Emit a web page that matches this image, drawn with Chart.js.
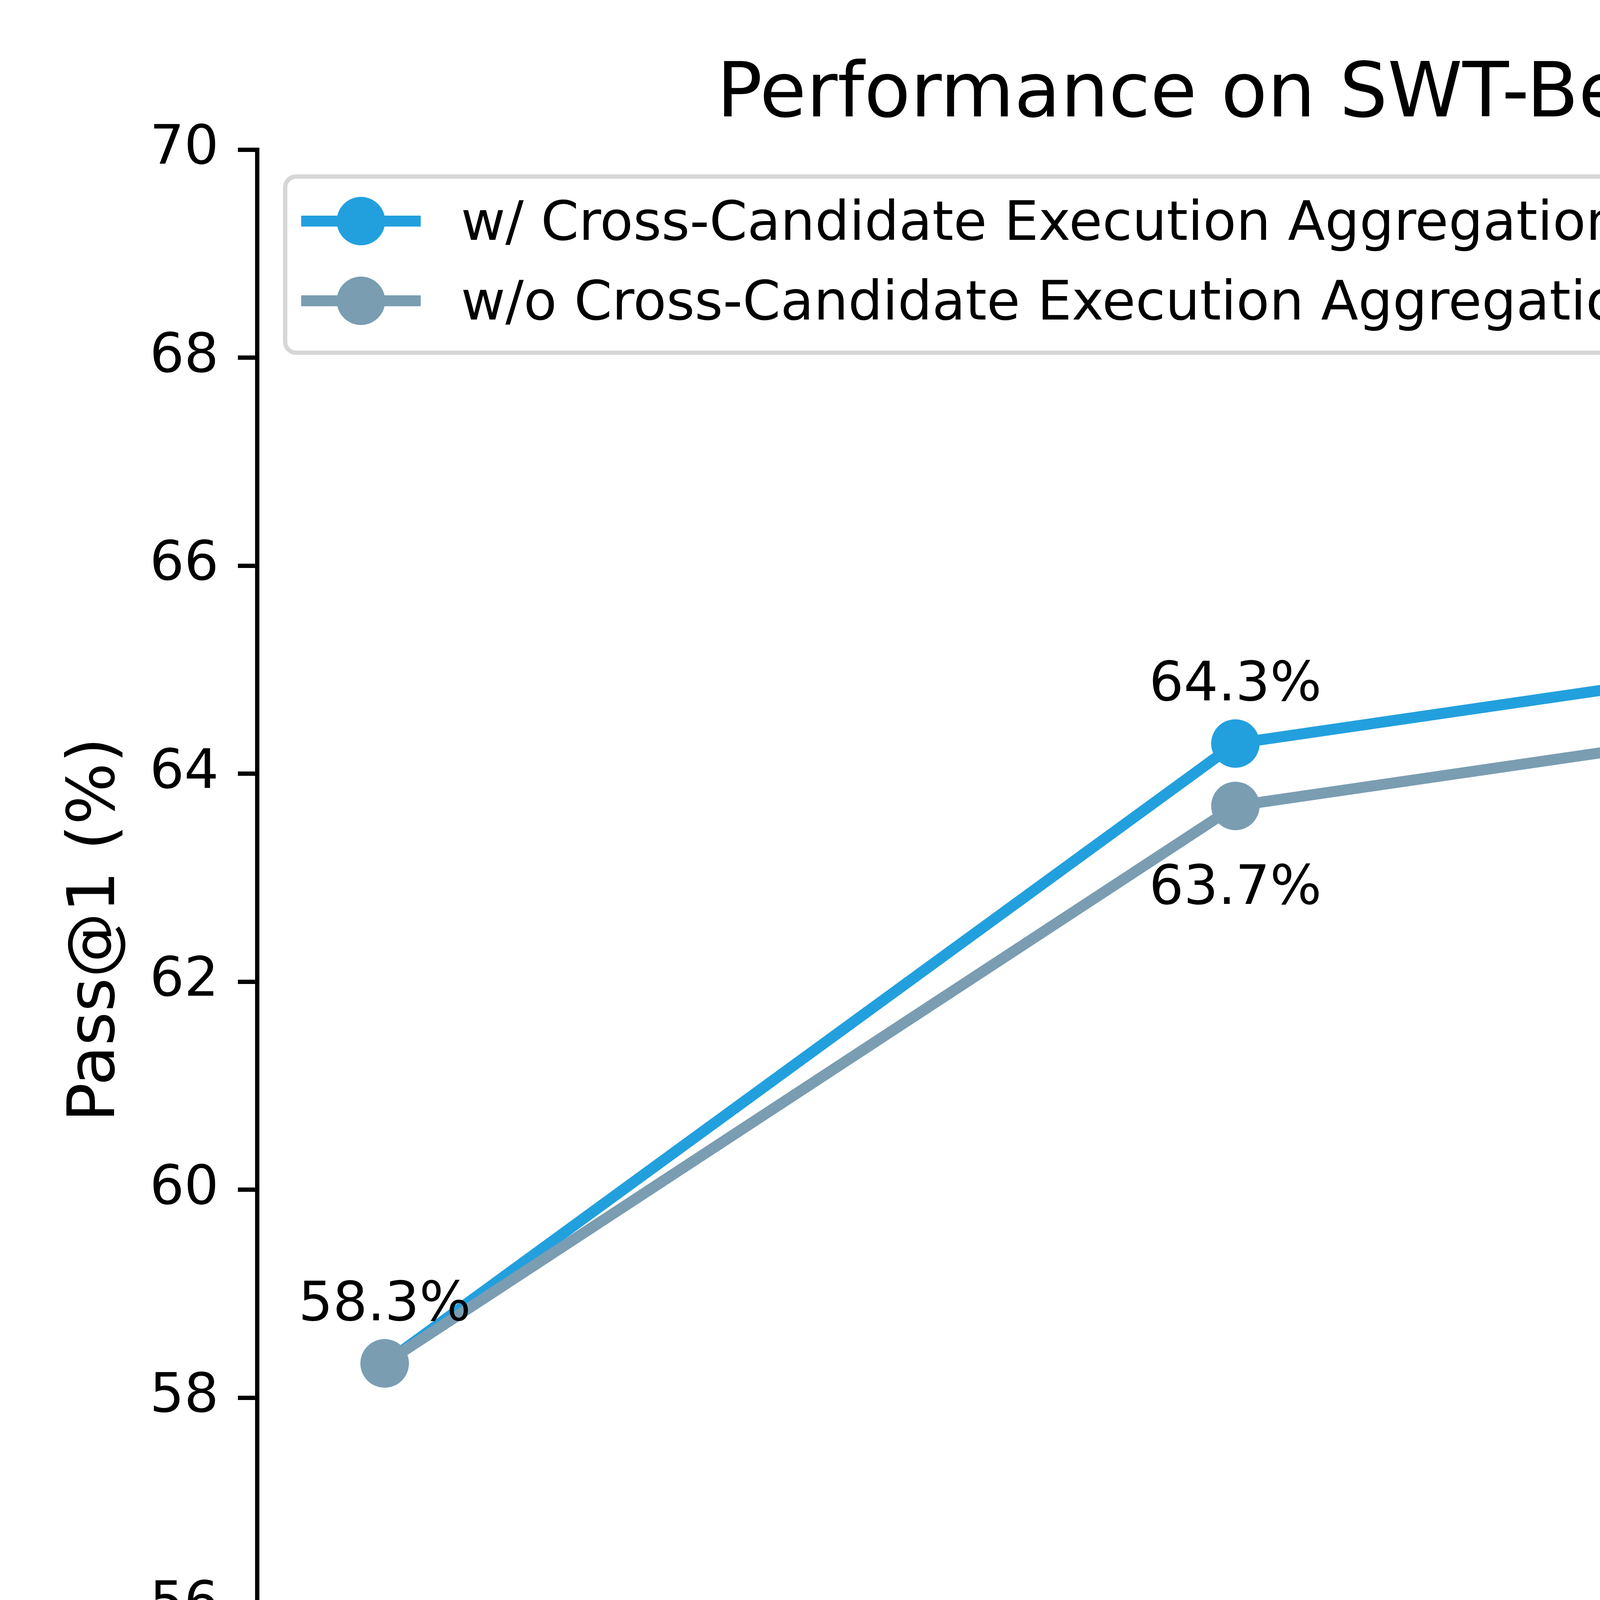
<!DOCTYPE html>
<html>
<head>
<meta charset="utf-8">
<title>SWT-Bench Mini-Subset</title>
<script src="https://cdn.jsdelivr.net/npm/chart.js@4/dist/chart.umd.min.js"></script>
<style>
  html, body { margin: 0; padding: 0; background: #fff; }
  #wrap { width: 8000px; height: 5000px; }
</style>
</head>
<body>
<div id="wrap"><canvas id="chart" width="8000" height="5000"></canvas></div>
<script>
// ========== DONNÉES ==========
const rounds = ["Baseline", "Round 1", "Round 2", "Round 3"];
const withAgg = [58.33, 64.29, 65.48, 66.67];
const withoutAgg = [58.33, 63.69, 64.88, 63.1];
const yTicks = [56, 58, 60, 62, 64, 66, 68, 70];
const seriesLabels = [
  "w/ Cross-Candidate Execution Aggregation",
  "w/o Cross-Candidate Execution Aggregation",
];
const chartTitle = "Performance on SWT-Bench Mini-Subset (Pass@1)";

// ========== STYLE ==========
const FONT = "'DejaVu Sans', sans-serif";
const BLUE = "#22a0de";
const GREY = "#7a9db2";
const TICK_PX = 139;

Chart.defaults.font.family = FONT;
Chart.defaults.color = "#000";

function toPoints(values) {
  return values.map((v, i) => ({ x: i, y: v }));
}

// labels, légende et titre dessinés à la main (façon matplotlib)
const overlay = {
  id: "overlay",
  afterDatasetsDraw(chart) {
    const ctx = chart.ctx;
    ctx.save();
    ctx.font = TICK_PX + "px " + FONT;
    ctx.fillStyle = "#000";
    ctx.textAlign = "center";
    ctx.textBaseline = "alphabetic";
    chart.data.datasets.forEach((ds, i) => {
      const meta = chart.getDatasetMeta(i);
      meta.data.forEach((pt, j) => {
        const v = ds.data[j].y;
        // même valeur au départ : un seul label
        if (i === 1 && v === chart.data.datasets[0].data[j].y) return;
        let y;
        if (i === 0) y = pt.y - 110;
        else y = pt.y + 208 + (j === 1 ? 43 : 0);
        ctx.fillText(v.toFixed(1) + "%", pt.x, y);
      });
    });
    ctx.restore();
  },
  afterDraw(chart) {
    const ctx = chart.ctx;
    const area = chart.chartArea;
    ctx.save();

    // titre
    ctx.font = "194px " + FONT;
    ctx.fillStyle = "#000";
    ctx.textAlign = "center";
    ctx.textBaseline = "alphabetic";
    ctx.fillText(chartTitle, (area.left + area.right) / 2, 298);

    // légende
    ctx.font = TICK_PX + "px " + FONT;
    const textX = 1180;
    let maxW = 0;
    chart.data.datasets.forEach((ds) => {
      maxW = Math.max(maxW, ctx.measureText(ds.label).width);
    });
    const left = 730, top = 452, bottom = 903, right = textX + maxW + 56, r = 28;
    ctx.beginPath();
    ctx.moveTo(left + r, top);
    ctx.arcTo(right, top, right, bottom, r);
    ctx.arcTo(right, bottom, left, bottom, r);
    ctx.arcTo(left, bottom, left, top, r);
    ctx.arcTo(left, top, right, top, r);
    ctx.closePath();
    ctx.fillStyle = "rgba(255,255,255,0.8)";
    ctx.fill();
    ctx.lineWidth = 11;
    ctx.strokeStyle = "rgba(204,204,204,0.8)";
    ctx.stroke();

    const rows = [566, 770];
    chart.data.datasets.forEach((ds, i) => {
      const y = rows[i];
      ctx.strokeStyle = ds.borderColor;
      ctx.lineWidth = ds.borderWidth;
      ctx.beginPath();
      ctx.moveTo(771, y);
      ctx.lineTo(1077, y);
      ctx.stroke();
      ctx.fillStyle = ds.pointBackgroundColor;
      ctx.beginPath();
      ctx.arc(924, y, ds.pointRadius, 0, Math.PI * 2);
      ctx.fill();
      ctx.fillStyle = "#000";
      ctx.textAlign = "left";
      ctx.fillText(ds.label, textX, y + 48);
    });
    ctx.restore();
  },
};

// ========== GRAPHIQUE ==========
function lineDataset(label, values, color, order) {
  return {
    label,
    data: toPoints(values),
    borderColor: color,
    backgroundColor: color,
    pointBackgroundColor: color,
    borderWidth: 28,
    borderJoinStyle: "round",
    pointRadius: 62,
    pointHoverRadius: 62,
    pointBorderWidth: 0,
    tension: 0,
    order,
  };
}

const axisLine = { display: true, color: "#000", width: 11 };
const axisTicks = {
  drawOnChartArea: false,
  drawTicks: true,
  tickLength: 49,
  tickWidth: 11,
  tickColor: "#000",
};

new Chart(document.getElementById("chart"), {
  type: "line",
  data: {
    datasets: [
      lineDataset(seriesLabels[0], withAgg, BLUE, 1),
      lineDataset(seriesLabels[1], withoutAgg, GREY, 0),
    ],
  },
  options: {
    responsive: false,
    animation: false,
    devicePixelRatio: 1,
    events: [],
    layout: { padding: { top: 383, right: 155, left: 0, bottom: 0 } },
    plugins: {
      legend: { display: false },
      title: { display: false },
      tooltip: { enabled: false },
    },
    scales: {
      x: {
        type: "linear",
        min: -0.15,
        max: 3.15,
        afterBuildTicks: (s) => {
          s.ticks = rounds.map((_, i) => ({ value: i }));
        },
        afterFit: (s) => {
          s.height = 623;
        },
        ticks: {
          callback: (v) => rounds[v],
          font: { size: TICK_PX },
          color: "#000",
          padding: 31,
          maxRotation: 0,
          autoSkip: false,
        },
        grid: axisTicks,
        border: axisLine,
        title: {
          display: true,
          text: "Round",
          font: { size: 167 },
          color: "#000",
          padding: { bottom: 150, top: 0 },
        },
      },
      y: {
        type: "linear",
        min: 55,
        max: 70,
        afterBuildTicks: (s) => {
          s.ticks = yTicks.map((v) => ({ value: v }));
        },
        afterFit: (s) => {
          s.width = 658;
        },
        ticks: {
          callback: (v) => String(v),
          font: { size: TICK_PX },
          color: "#000",
          padding: 49,
        },
        grid: axisTicks,
        border: axisLine,
        title: {
          display: true,
          text: "Pass@1 (%)",
          font: { size: 167 },
          color: "#000",
          padding: { top: 148, bottom: 0 },
        },
      },
    },
  },
  plugins: [overlay],
});
</script>
</body>
</html>
